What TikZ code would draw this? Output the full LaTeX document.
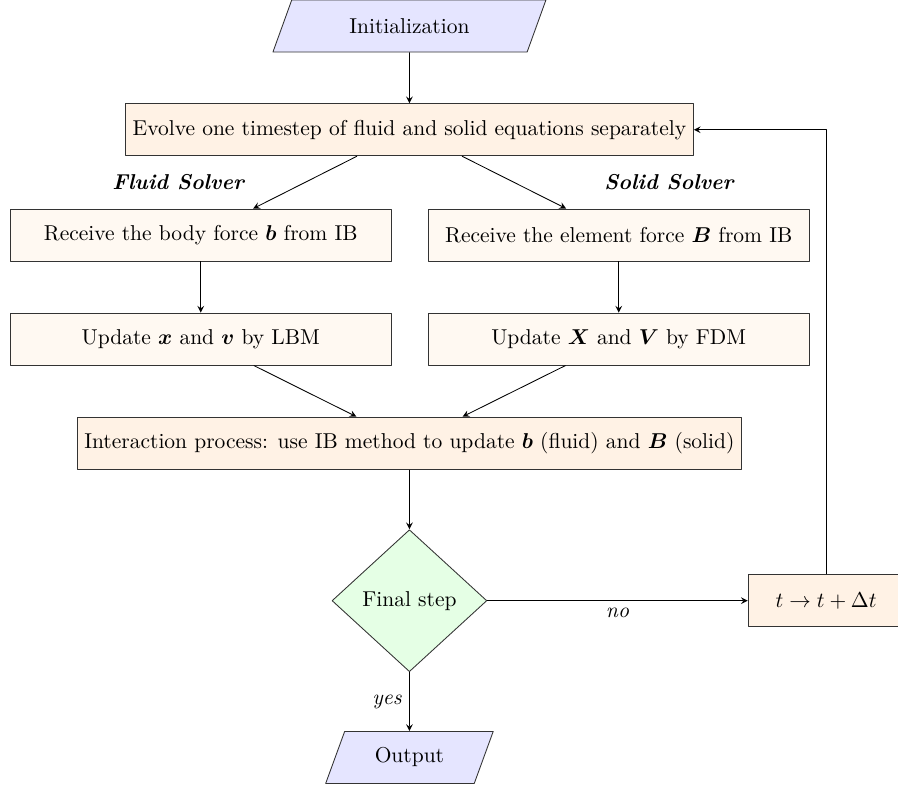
\documentclass[tikz,border=0pt]{standalone}
\usepackage{bm}
\usetikzlibrary{shapes.geometric}
\begin{document}
\begin{tikzpicture}[line join=round,>=stealth,
	io/.style={trapezium,trapezium left angle=70,trapezium right angle=110,trapezium stretches=true,draw=black!80,fill=blue!10,minimum height=0.85cm},
	proc/.style={rectangle,draw=black!80,fill=orange!10,minimum height=0.85cm},
	solver/.style={proc,fill=orange!5,minimum width=6.23cm},
	decide/.style={diamond,draw=black!80,fill=green!10,minimum width=2.53cm,minimum height=2.32cm,inner sep=0pt},
	lbl/.style={font=\bfseries\itshape}]
	\useasboundingbox (0,0) rectangle (14.673,-12.908);
	% nodes
	\node[io,minimum width=4.49cm] (init) at (6.69,-0.425) {Initialization};
	\node[proc] (evolve) at (6.69,-2.12) {Evolve one timestep of fluid and solid equations separately};
	\node[lbl] (fluidlbl) at (2.91,-2.97) {Fluid Solver};
	\node[lbl] (solidlbl) at (10.93,-2.97) {Solid Solver};
	\node[solver] (body) at (3.28,-3.84) {Receive the body force $\bm{b}$ from IB};
	\node[solver] (element) at (10.11,-3.84) {Receive the element force $\bm{B}$ from IB};
	\node[solver] (updfluid) at (3.28,-5.54) {Update $\bm{x}$ and $\bm{v}$ by LBM};
	\node[solver] (updsolid) at (10.11,-5.54) {Update $\bm{X}$ and $\bm{V}$ by FDM};
	\node[proc] (inter) at (6.69,-7.24) {Interaction process: use IB method to update $\bm{b}$ (fluid) and $\bm{B}$ (solid)};
	\node[decide] (final) at (6.69,-9.815) {Final step};
	\node[proc,minimum width=2.55cm] (tstep) at (13.50,-9.815) {$t\to t+\Delta t$};
	\node[io,minimum width=2.75cm] (output) at (6.69,-12.377) {Output};
	% connectors
	\draw[->] (init) -- (evolve);
	\draw[->] (evolve) -- (body);
	\draw[->] (evolve) -- (element);
	\draw[->] (body) -- (updfluid);
	\draw[->] (element) -- (updsolid);
	\draw[->] (updfluid) -- (inter);
	\draw[->] (updsolid) -- (inter);
	\draw[->] (inter) -- (final);
	\draw[->] (final) -- node[below]{\textit{no}} (tstep);
	\draw[->] (final) -- node[left]{\textit{yes}} (output);
	\draw[->] (tstep) |- (evolve);
\end{tikzpicture}
\end{document}
